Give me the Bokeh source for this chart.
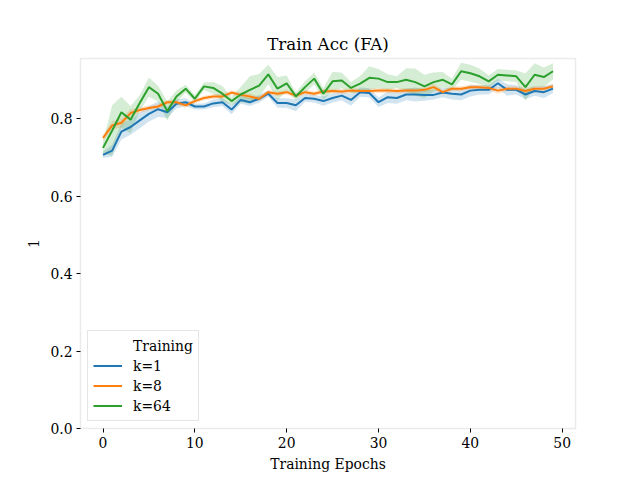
from bokeh.plotting import figure
from bokeh.models import Range1d, FixedTicker, Legend, LegendItem, ColumnDataSource
from bokeh.embed import file_html
from bokeh.resources import INLINE

epochs = list(range(50))

k1 = [0.707, 0.718, 0.767, 0.779, 0.796, 0.813, 0.825, 0.817, 0.839, 0.843,
      0.832, 0.832, 0.840, 0.843, 0.824, 0.849, 0.843, 0.852, 0.865, 0.841,
      0.841, 0.835, 0.854, 0.852, 0.846, 0.854, 0.860, 0.849, 0.869, 0.867,
      0.843, 0.856, 0.854, 0.863, 0.863, 0.862, 0.862, 0.868, 0.865, 0.863,
      0.873, 0.875, 0.875, 0.892, 0.875, 0.875, 0.863, 0.872, 0.869, 0.878]
k1_err = [0.008, 0.015, 0.020, 0.020, 0.020, 0.020, 0.020, 0.015, 0.012, 0.010,
          0.008, 0.008, 0.010, 0.010, 0.012, 0.010, 0.010, 0.010, 0.008, 0.012,
          0.012, 0.015, 0.010, 0.010, 0.012, 0.012, 0.012, 0.015, 0.012, 0.012,
          0.012, 0.015, 0.015, 0.015, 0.018, 0.015, 0.012, 0.012, 0.015, 0.015,
          0.015, 0.012, 0.012, 0.012, 0.015, 0.012, 0.012, 0.012, 0.015, 0.012]

k8 = [0.751, 0.783, 0.790, 0.815, 0.823, 0.828, 0.832, 0.843, 0.843, 0.835,
      0.846, 0.854, 0.858, 0.858, 0.868, 0.862, 0.858, 0.852, 0.869, 0.865,
      0.869, 0.860, 0.869, 0.865, 0.871, 0.872, 0.871, 0.873, 0.872, 0.872,
      0.873, 0.873, 0.872, 0.873, 0.873, 0.875, 0.882, 0.869, 0.878, 0.878,
      0.882, 0.882, 0.880, 0.873, 0.878, 0.878, 0.872, 0.878, 0.878, 0.884]
k8_err = [0.008, 0.010, 0.012, 0.010, 0.008, 0.006, 0.006, 0.006, 0.006, 0.006,
          0.006, 0.006, 0.006, 0.006, 0.006, 0.006, 0.008, 0.006, 0.006, 0.006,
          0.006, 0.006, 0.006, 0.006, 0.006, 0.006, 0.006, 0.006, 0.006, 0.006,
          0.006, 0.006, 0.006, 0.006, 0.006, 0.006, 0.008, 0.006, 0.006, 0.006,
          0.006, 0.006, 0.006, 0.008, 0.006, 0.006, 0.008, 0.006, 0.006, 0.006]

k64 = [0.725, 0.770, 0.817, 0.798, 0.841, 0.882, 0.865, 0.820, 0.858, 0.878,
       0.852, 0.884, 0.880, 0.865, 0.846, 0.863, 0.875, 0.886, 0.915, 0.878,
       0.892, 0.858, 0.882, 0.904, 0.865, 0.897, 0.899, 0.880, 0.891, 0.906,
       0.904, 0.895, 0.895, 0.901, 0.895, 0.884, 0.895, 0.901, 0.889, 0.923,
       0.918, 0.910, 0.897, 0.914, 0.912, 0.910, 0.882, 0.914, 0.908, 0.923]
k64_err = [0.015, 0.065, 0.040, 0.035, 0.020, 0.025, 0.020, 0.025, 0.015, 0.010,
           0.010, 0.010, 0.015, 0.020, 0.010, 0.020, 0.035, 0.030, 0.025, 0.030,
           0.020, 0.010, 0.015, 0.015, 0.015, 0.025, 0.020, 0.015, 0.020, 0.030,
           0.025, 0.020, 0.015, 0.030, 0.035, 0.030, 0.025, 0.020, 0.015, 0.022,
           0.022, 0.020, 0.015, 0.015, 0.015, 0.015, 0.035, 0.030, 0.025, 0.021]

series_labels = ["k=1", "k=8", "k=64"]
colors = ["#1f77b4", "#ff7f0e", "#2ca02c"]
x_ticks = [0, 10, 20, 30, 40, 50]
y_ticks = [0.0, 0.2, 0.4, 0.6, 0.8]
y_tick_labels = ["0.0", "0.2", "0.4", "0.6", "0.8"]

FONT = "DejaVu Serif"

p = figure(frame_width=495, frame_height=370, output_backend="svg", toolbar_location=None,
           x_range=Range1d(-2.45, 51.45), y_range=Range1d(0, 0.956),
           min_border_left=80, min_border_top=58, min_border_right=57, min_border_bottom=44,
           background_fill_color="white", border_fill_color="white")

p.title.text = "Train Acc (FA)"
p.title.text_font = FONT
p.title.text_font_style = "normal"
p.title.text_font_size = "16.7px"
p.title.align = "center"
p.title.text_color = "black"

p.outline_line_color = "#ebebeb"
p.outline_line_width = 1.5
p.grid.visible = False

for ax in (p.xaxis[0], p.yaxis[0]):
    ax.axis_line_color = None
    ax.major_tick_line_color = "black"
    ax.major_tick_out = 4
    ax.major_tick_in = 0
    ax.minor_tick_line_color = None
    ax.major_label_text_font = FONT
    ax.major_label_text_font_size = "13.9px"
    ax.major_label_text_color = "black"
    ax.axis_label_text_font = FONT
    ax.axis_label_text_font_size = "13.9px"
    ax.axis_label_text_font_style = "normal"
    ax.axis_label_text_color = "black"
    ax.major_label_standoff = 4

p.xaxis.ticker = FixedTicker(ticks=x_ticks)
p.yaxis.ticker = FixedTicker(ticks=y_ticks)
p.yaxis.major_label_overrides = {t: l for t, l in zip(y_ticks, y_tick_labels)}
p.xaxis.axis_label = "Training Epochs"
p.yaxis.axis_label = "1"
p.yaxis.axis_label_standoff = 8

data = [(k1, k1_err), (k8, k8_err), (k64, k64_err)]
for (vals, err), c in zip(data, colors):
    lo = [v - e for v, e in zip(vals, err)]
    hi = [v + e for v, e in zip(vals, err)]
    src = ColumnDataSource(dict(x=epochs, lo=lo, hi=hi))
    p.varea(x="x", y1="lo", y2="hi", source=src, fill_color=c, fill_alpha=0.2)

renderers = []
for (vals, err), c in zip(data, colors):
    r = p.line(epochs, vals, line_color=c, line_width=2)
    renderers.append(r)

dummy = p.line(epochs, k1, line_alpha=0)

items = [LegendItem(label="Training", renderers=[dummy])]
for lab, r in zip(series_labels, renderers):
    items.append(LegendItem(label=lab, renderers=[r]))

legend = Legend(items=items, location="bottom_left")
legend.margin = 7
legend.padding = 5
legend.spacing = 1
legend.label_height = 19
legend.glyph_height = 19
legend.glyph_width = 29
legend.label_standoff = 11
legend.label_text_font = FONT
legend.label_text_font_size = "13.9px"
legend.label_text_color = "black"
legend.border_line_color = "#cccccc"
legend.border_line_width = 1
legend.background_fill_color = "white"
legend.background_fill_alpha = 0.8
p.add_layout(legend)

open("out.html", "w").write(file_html(p, INLINE))
